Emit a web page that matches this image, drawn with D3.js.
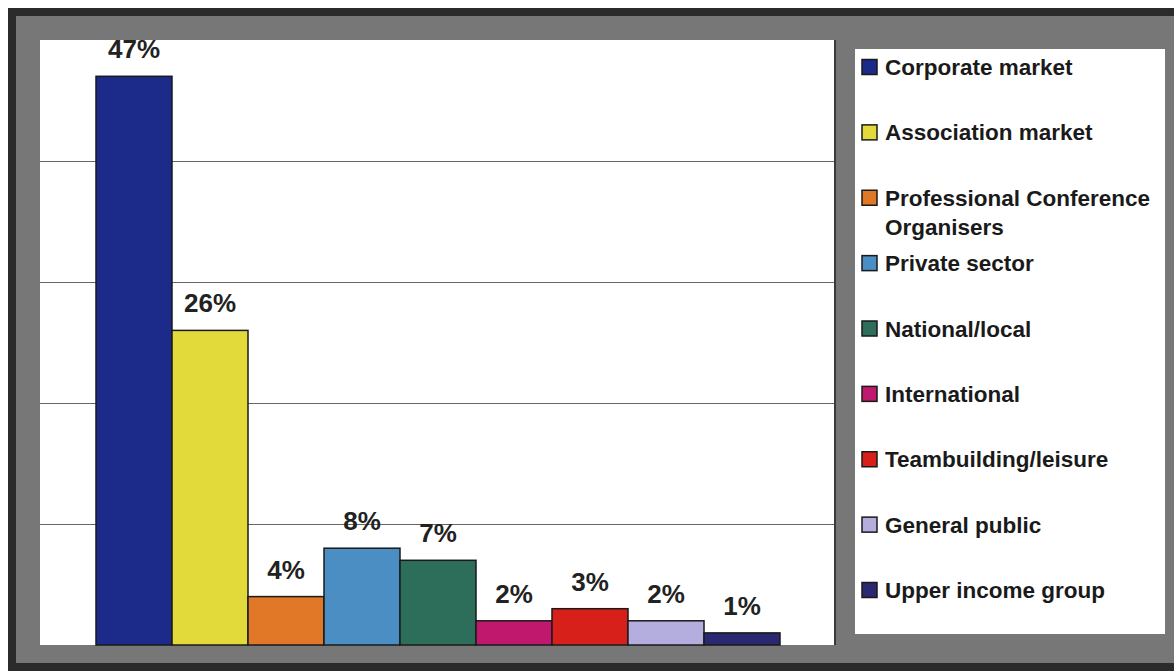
<!DOCTYPE html>
<html>
<head>
<meta charset="utf-8">
<script src="https://cdn.jsdelivr.net/npm/d3@7"></script>
<style>
  html, body { margin: 0; padding: 0; background: #ffffff; }
  svg { display: block; }
  text { font-family: "Liberation Sans", Arial, Helvetica, sans-serif; }
</style>
</head>
<body>
<svg id="chart" width="1174" height="671"></svg>
<script>
// Market segments and their share of business (%)
const categories = [
  "Corporate market",
  "Association market",
  "Professional Conference Organisers",
  "Private sector",
  "National/local",
  "International",
  "Teambuilding/leisure",
  "General public",
  "Upper income group"
];
const values = [47, 26, 4, 8, 7, 2, 3, 2, 1];
const colors = ["#1c2a8a", "#e2d93a", "#e07828", "#4a8ec4", "#2d6e5a", "#c0186c", "#d8201a", "#b4aede", "#2a2870"];
const legendLines = [
  ["Corporate market"],
  ["Association market"],
  ["Professional Conference", "Organisers"],
  ["Private sector"],
  ["National/local"],
  ["International"],
  ["Teambuilding/leisure"],
  ["General public"],
  ["Upper income group"]
];
const gridTicks = [10, 20, 30, 40];

const svg = d3.select("#chart");
const W = 1174, H = 671;

// Plot area
const plot = { left: 40, top: 40, right: 835, bottom: 645 };

// Outer grey frame with dark edge
svg.append("rect")
  .attr("x", 12).attr("y", 12)
  .attr("width", W + 20).attr("height", 655)
  .attr("fill", "#777777")
  .attr("stroke", "#2b2b2b")
  .attr("stroke-width", 8);

// White plot background
svg.append("rect")
  .attr("x", plot.left).attr("y", plot.top)
  .attr("width", plot.right - plot.left).attr("height", plot.bottom - plot.top)
  .attr("fill", "#ffffff");

const y = d3.scaleLinear().domain([0, 50]).range([plot.bottom, plot.top]);
const x = d3.scaleBand().domain(categories).range([96, 780]).padding(0);

// Horizontal gridlines
const grid = svg.append("g")
  .attr("transform", `translate(${plot.left},0)`)
  .call(d3.axisLeft(y).tickValues(gridTicks).tickSize(-(plot.right - plot.left)).tickFormat(""));
grid.select(".domain").remove();
grid.selectAll(".tick line").attr("stroke", "#666666").attr("stroke-width", 1.2);

// Right edge of the plot area
svg.append("line")
  .attr("x1", plot.right).attr("x2", plot.right)
  .attr("y1", plot.top).attr("y2", plot.bottom)
  .attr("stroke", "#3a3a3a").attr("stroke-width", 2);

// Bars
svg.append("g").selectAll("rect")
  .data(categories)
  .join("rect")
  .attr("x", d => x(d))
  .attr("y", (d, i) => y(values[i]))
  .attr("width", x.bandwidth())
  .attr("height", (d, i) => y(0) - y(values[i]))
  .attr("fill", (d, i) => colors[i])
  .attr("stroke", "#1a1a1a")
  .attr("stroke-width", 1.5);

// Value labels
svg.append("g").selectAll("text")
  .data(categories)
  .join("text")
  .attr("x", d => x(d) + x.bandwidth() / 2)
  .attr("y", (d, i) => y(values[i]) - 18)
  .attr("text-anchor", "middle")
  .attr("font-size", 26)
  .attr("font-weight", "bold")
  .attr("fill", "#222222")
  .text((d, i) => values[i] + "%");

// Legend
const legend = { left: 855, top: 49, right: 1165, bottom: 634 };
svg.append("rect")
  .attr("x", legend.left).attr("y", legend.top)
  .attr("width", legend.right - legend.left).attr("height", legend.bottom - legend.top)
  .attr("fill", "#ffffff");

const ly = d3.scalePoint().domain(categories).range([67, 590]);

const items = svg.append("g").selectAll("g")
  .data(categories)
  .join("g")
  .attr("transform", d => `translate(0,${ly(d)})`);

items.append("rect")
  .attr("x", 862).attr("y", -7.5)
  .attr("width", 15).attr("height", 15)
  .attr("fill", (d, i) => colors[i])
  .attr("stroke", "#1a1a1a")
  .attr("stroke-width", 1.5);

items.append("text")
  .attr("x", 885)
  .attr("y", 0)
  .attr("font-size", 22.5)
  .attr("font-weight", "bold")
  .attr("fill", "#1a1a1a")
  .each(function (d, i) {
    const t = d3.select(this);
    legendLines[i].forEach((line, j) => {
      t.append("tspan")
        .attr("x", 885)
        .attr("dy", j === 0 ? "0.36em" : 29)
        .text(line);
    });
  });
</script>
</body>
</html>
